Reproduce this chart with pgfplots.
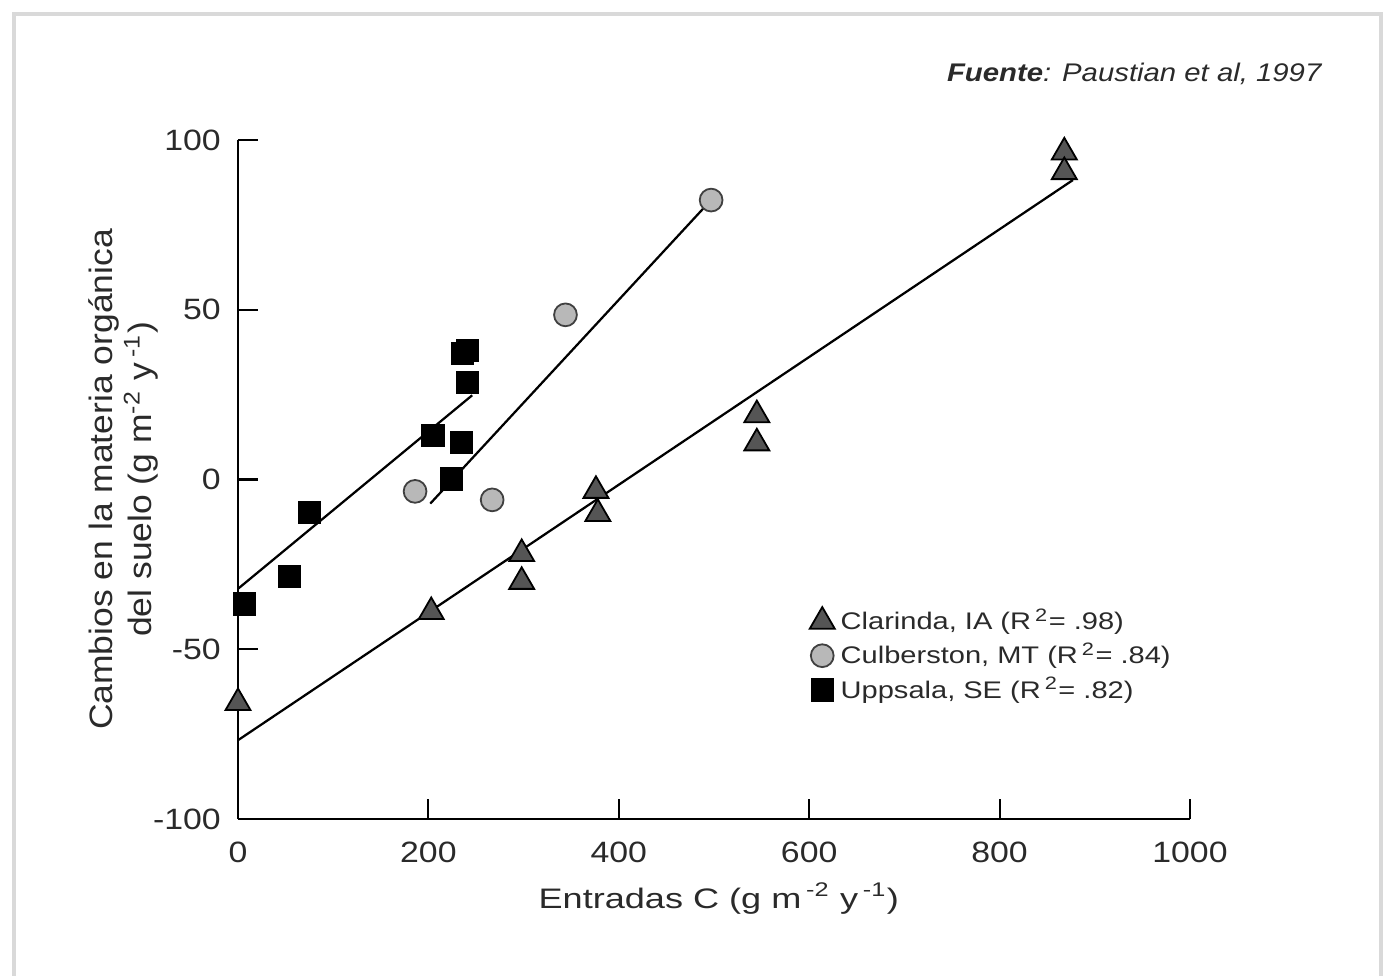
\documentclass[border=0pt]{standalone}
\usepackage{fontspec}
\setmainfont{Liberation Sans}
\newfontfamily\tickfont{Liberation Sans}[FakeStretch=1.15]
\newfontfamily\titlefont{Liberation Sans}[FakeStretch=1.15]
\newfontfamily\legfont{Liberation Sans}[FakeStretch=1.21]
\newfontfamily\xlabfont{Liberation Sans}[FakeStretch=1.28]
\newfontfamily\ylabfont{Liberation Sans}[FakeStretch=1.095]
\usepackage{pgfplots}
\pgfplotsset{compat=1.18}
\definecolor{tri}{HTML}{555555}
\definecolor{circ}{HTML}{B8B8B8}
\definecolor{txt}{HTML}{2A2A2A}
\begin{document}
\begin{tikzpicture}
\useasboundingbox (0,0) rectangle (461.33pt,325.33pt);
\draw[black!15, line width=1.2pt] (4.67pt,-5pt) -- (4.67pt,320.67pt) -- (460.4pt,320.67pt) -- (460.4pt,-5pt);
\node[anchor=base east, font=\titlefont\fontsize{8.5}{10}\selectfont\itshape, text=txt, inner sep=0pt] at (440.67pt,298pt) {\textbf{Fuente}: Paustian et al, 1997};
\begin{axis}[
  at={(79.33pt,52.33pt)}, anchor=south west,
  scale only axis, width=317.33pt, height=226.33pt,
  xmin=0, xmax=1000, ymin=-100, ymax=100,
  axis x line=bottom, axis y line=left,
  axis line style={-, line width=0.8pt, black},
  xtick={0,200,...,1000}, ytick={-100,-50,0,50,100},
  tick align=inside, major tick length=6.7pt,
  tick style={line width=0.7pt, black},
  /pgf/number format/assume math mode=true,
  /pgf/number format/set thousands separator={},
  ticklabel style={font=\tickfont\fontsize{9.8}{12}\selectfont, text=txt},
  xticklabel style={yshift=-4pt},
  yticklabel style={xshift=-2.2pt},
  xlabel={Entradas C (g m\,\textsuperscript{-2} y\,\textsuperscript{-1})},
  xlabel style={font=\xlabfont\fontsize{9.4}{11}\selectfont, text=txt, at={(axis description cs:0.505,0)}, anchor=base, yshift=-29.8pt},
  ylabel={Cambios en la materia orgánica\\del suelo (g m\textsuperscript{-2} y\,\textsuperscript{-1})},
  ylabel style={font=\ylabfont\fontsize{10.8}{13}\selectfont, text=txt, at={(axis description cs:-0.083,0.5)}, anchor=south, align=center, inner sep=0pt},
  legend style={at={(axis description cs:0.6,0.317)}, anchor=north west,
    draw=none, fill=none, font=\legfont\fontsize{8}{9.6}\selectfont, text=txt,
    row sep=0pt, inner sep=0pt, nodes={inner ysep=1.45pt}},
  legend cell align=left,
  clip=false,
]
\addplot[black, line width=0.75pt, forget plot] coordinates {(0,-76.8) (877,88.2)};
\addplot[black, line width=0.75pt, forget plot] coordinates {(202,-7.1) (490,80.2)};
\addplot[black, line width=0.75pt, forget plot] coordinates {(0,-32.2) (246,24.8)};
\addplot[only marks, mark=triangle*, mark size=4.8pt, mark options={fill=tri, draw=black, line width=0.6pt}]
  coordinates {(0,-65.8) (203,-39) (298,-21.9) (298,-30.1) (376,-3.3) (378,-10.1) (545,19) (545,10.7) (868,96.4) (868,90.6)};
\addlegendentry{Clarinda, IA (R\,\textsuperscript{2}= .98)}
\addplot[only marks, mark=*, mark size=3.8pt, mark options={fill=circ, draw=black!75, line width=0.6pt}]
  coordinates {(186,-3.5) (267,-6) (344,48.5) (497,82.3)};
\addlegendentry{Culberston, MT (R\,\textsuperscript{2}= .84)}
\addplot[only marks, mark=square*, mark size=3.7pt, mark options={fill=black, draw=black}]
  coordinates {(7,-36.7) (54,-28.6) (75,-9.7) (205,12.9) (224,0.2) (235,10.9) (236,37.1) (241,38) (241,28.5)};
\addlegendentry{Uppsala, SE (R\,\textsuperscript{2}= .82)}
\end{axis}
\end{tikzpicture}
\end{document}
